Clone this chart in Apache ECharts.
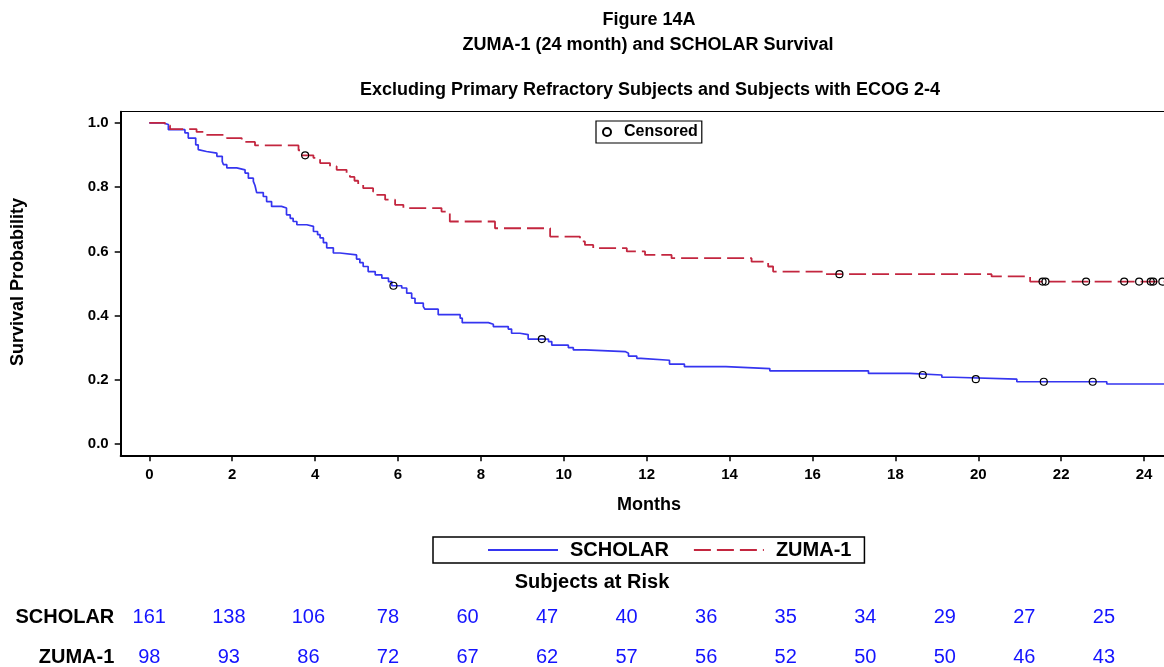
<!DOCTYPE html>
<html>
<head>
<meta charset="utf-8">
<script src="https://cdn.jsdelivr.net/npm/echarts@6.0.0/dist/echarts.min.js"></script>
<style>
  html, body { margin: 0; padding: 0; background: #fff; }
  #chart { width: 1164px; height: 667px; }
</style>
</head>
<body>
<div id="chart"></div>
<script>
// Kaplan-Meier survival: step times (months) and survival after each step
const scholarTime = [0, 0.34, 0.46, 0.86, 0.94, 1.12, 1.18, 1.22, 1.38, 1.63, 1.76, 1.79, 1.87, 2.11, 2.31,
  2.39, 2.51, 2.55, 2.59, 2.75, 2.83, 2.95, 3.19, 3.31, 3.40, 3.47, 3.56, 3.80, 3.96, 4.06,
  4.12, 4.20, 4.28, 4.44, 4.60, 5.00, 5.08, 5.16, 5.28, 5.45, 5.61, 5.77, 5.85, 6.09, 6.21,
  6.33, 6.41, 6.61, 6.65, 6.97, 7.50, 7.55, 8.18, 8.30, 8.66, 8.74, 8.94, 9.14, 9.63, 9.71,
  10.11, 10.23, 10.51, 11.48, 11.56, 11.76, 11.86, 12.55, 12.91, 13.91, 14.97, 17.35, 18.35, 19.12, 19.40,
  20.93, 23.10, 24.48];
const scholarSurv = [1, 0.995, 0.979, 0.969, 0.953, 0.932, 0.917, 0.911, 0.906, 0.896, 0.880, 0.870, 0.860, 0.854, 0.844,
  0.828, 0.818, 0.805, 0.783, 0.771, 0.755, 0.740, 0.735, 0.714, 0.703, 0.693, 0.683, 0.678, 0.662, 0.652,
  0.642, 0.627, 0.611, 0.595, 0.589, 0.576, 0.565, 0.553, 0.537, 0.527, 0.517, 0.506, 0.493, 0.486, 0.470,
  0.454, 0.439, 0.428, 0.420, 0.403, 0.392, 0.378, 0.373, 0.366, 0.358, 0.345, 0.341, 0.327, 0.319, 0.308,
  0.300, 0.293, 0.288, 0.283, 0.274, 0.267, 0.261, 0.249, 0.241, 0.235, 0.228, 0.220, 0.215, 0.208, 0.202,
  0.194, 0.187, 0.187];

const zumaTime = [0, 0.38, 0.50, 1.14, 1.34, 1.87, 2.23, 2.55, 3.60, 3.68, 3.96, 4.12, 4.36, 4.52, 4.76,
  4.84, 4.95, 5.04, 5.16, 5.40, 5.49, 5.69, 5.93, 6.13, 7.05, 7.25, 8.34, 9.67, 10.39, 10.51,
  10.71, 11.52, 11.96, 12.60, 14.53, 14.93, 15.05, 16.30, 20.32, 21.25, 24.48];
const zumaSurv = [1, 0.992, 0.981, 0.972, 0.963, 0.953, 0.941, 0.930, 0.915, 0.899, 0.891, 0.875, 0.865, 0.854, 0.844,
  0.832, 0.820, 0.807, 0.797, 0.786, 0.776, 0.761, 0.745, 0.735, 0.724, 0.693, 0.672, 0.646, 0.631, 0.620,
  0.610, 0.600, 0.589, 0.579, 0.568, 0.553, 0.537, 0.529, 0.522, 0.506, 0.506];

// Censored observations
const scholarCensorTime = [5.89, 9.47, 18.66, 19.94, 21.58, 22.76];
const scholarCensorSurv = [0.493, 0.327, 0.215, 0.202, 0.194, 0.194];
const zumaCensorTime = [3.76, 16.65, 21.55, 21.62, 22.60, 23.52, 23.88, 24.16, 24.22, 24.44];
const zumaCensorSurv = [0.899, 0.529, 0.506, 0.506, 0.506, 0.506, 0.506, 0.506, 0.506, 0.506];

// Axis ticks
const monthTicks = [0, 2, 4, 6, 8, 10, 12, 14, 16, 18, 20, 22, 24];
const survTicks = [0, 0.2, 0.4, 0.6, 0.8, 1.0];

// Subjects at risk every 2 months
const riskGroups = ['SCHOLAR', 'ZUMA-1'];
const scholarAtRisk = [161, 138, 106, 78, 60, 47, 40, 36, 35, 34, 29, 27, 25];
const zumaAtRisk = [98, 93, 86, 72, 67, 62, 57, 56, 52, 50, 50, 46, 43];

const FONT = '"Liberation Sans", Arial, sans-serif';
const BLUE = '#3535f0';
const RED = '#c3263f';
const NUM_BLUE = '#1414ff';

// Month range shown across the plot (left edge sits a little before 0)
const X_MIN = -0.69;
const X_MAX = 24.48;

const pairs = (xs, ys) => xs.map((x, i) => [x, ys[i]]);

const chart = echarts.init(document.getElementById('chart'), null, { renderer: 'canvas' });

function headText(text, x, y, size, extra) {
  return Object.assign({
    type: 'text', x: x, y: y,
    style: {
      text: text, fill: '#000',
      font: 'bold ' + size + 'px ' + FONT,
      align: 'center', verticalAlign: 'middle',
      textAlign: 'center', textVerticalAlign: 'middle'
    }
  }, extra || {});
}

const riskLabel = {
  show: true, position: 'inside', opacity: 1,
  formatter: p => String(p.value[2]),
  color: NUM_BLUE, fontFamily: FONT, fontSize: 20
};

const censorStyle = { color: 'rgba(0,0,0,0)', borderColor: '#000', borderWidth: 1.2, opacity: 1 };

const option = {
  animation: false,
  backgroundColor: '#fff',
  graphic: [
    headText('Figure 14A', 649, 20, 18),
    headText('ZUMA-1 (24 month) and SCHOLAR Survival', 648, 45, 18),
    headText('Excluding Primary Refractory Subjects and Subjects with ECOG 2-4', 650, 90, 18),
    headText('Survival Probability', 18, 282, 18, { rotation: Math.PI / 2 }),
    headText('Months', 649, 505, 18),
    headText('Subjects at Risk', 592, 582, 20)
  ],
  legend: [
    {
      data: ['Censored'],
      left: 596, top: 121,
      selectedMode: false,
      borderColor: '#000', borderWidth: 1.2,
      padding: [3, 4, 3, 6],
      itemWidth: 8, itemHeight: 8,
      textStyle: { fontFamily: FONT, fontWeight: 'bold', fontSize: 16, color: '#000', padding: [0, 0, 0, 8] }
    },
    {
      data: ['SCHOLAR', 'ZUMA-1'],
      left: 433, top: 537,
      selectedMode: false,
      borderColor: '#000', borderWidth: 1.5,
      padding: [3, 13, 3, 54],
      itemWidth: 70, itemHeight: 14, itemGap: 24,
      itemStyle: { color: 'rgba(0,0,0,0)', borderColor: 'rgba(0,0,0,0)', borderWidth: 0 },
      textStyle: { fontFamily: FONT, fontWeight: 'bold', fontSize: 20, color: '#000', padding: [0, 0, 0, 7] }
    }
  ],
  grid: [
    { left: 120.7, right: 0, top: 111.7, bottom: 211.7 },
    { left: 149.3, right: 60.1, top: 617, height: 46 }
  ],
  xAxis: [
    {
      type: 'value', gridIndex: 0, min: X_MIN, max: X_MAX,
      axisLine: { show: true, onZero: false, lineStyle: { color: '#000', width: 2 } },
      axisTick: { show: true, length: 6, customValues: monthTicks, lineStyle: { color: '#000', width: 1.5 } },
      axisLabel: { customValues: monthTicks, color: '#000', fontFamily: FONT, fontWeight: 'bold', fontSize: 15, margin: 12 },
      splitLine: { show: false }
    },
    { type: 'value', gridIndex: 1, min: 0, max: 24, show: false },
    {
      // frame line along the top of the plot
      type: 'value', gridIndex: 0, position: 'top', min: X_MIN, max: X_MAX,
      axisLine: { show: true, onZero: false, lineStyle: { color: '#000', width: 1.2 } },
      axisTick: { show: false }, axisLabel: { show: false }, splitLine: { show: false }
    }
  ],
  yAxis: [
    {
      type: 'value', gridIndex: 0, min: -0.035, max: 1.035,
      axisLine: { show: true, onZero: false, lineStyle: { color: '#000', width: 2 } },
      axisTick: { show: true, length: 6, customValues: survTicks, lineStyle: { color: '#000', width: 1.5 } },
      axisLabel: {
        customValues: survTicks, formatter: v => v.toFixed(1),
        color: '#000', fontFamily: FONT, fontWeight: 'bold', fontSize: 15, margin: 12
      },
      splitLine: { show: false }
    },
    {
      type: 'category', gridIndex: 1, data: riskGroups, inverse: true, boundaryGap: false,
      axisLine: { show: false }, axisTick: { show: false }, splitLine: { show: false },
      axisLabel: { color: '#000', fontFamily: FONT, fontWeight: 'bold', fontSize: 20, margin: 35 }
    }
  ],
  series: [
    {
      name: 'SCHOLAR', type: 'line', step: 'end',
      xAxisIndex: 0, yAxisIndex: 0,
      data: pairs(scholarTime, scholarSurv),
      symbol: 'none', silent: true,
      itemStyle: { color: BLUE },
      lineStyle: { color: BLUE, width: 1.7 }
    },
    {
      name: 'ZUMA-1', type: 'line', step: 'end',
      xAxisIndex: 0, yAxisIndex: 0,
      data: pairs(zumaTime, zumaSurv),
      symbol: 'none', silent: true,
      itemStyle: { color: RED },
      lineStyle: { color: RED, width: 1.8, type: [17, 6] }
    },
    {
      name: 'Censored', type: 'scatter',
      xAxisIndex: 0, yAxisIndex: 0, z: 5,
      data: pairs(scholarCensorTime, scholarCensorSurv),
      symbol: 'circle', symbolSize: 7, silent: true,
      itemStyle: censorStyle
    },
    {
      name: 'Censored', type: 'scatter',
      xAxisIndex: 0, yAxisIndex: 0, z: 5,
      data: pairs(zumaCensorTime, zumaCensorSurv),
      symbol: 'circle', symbolSize: 7, silent: true,
      itemStyle: censorStyle
    },
    {
      name: 'SCHOLAR at risk', type: 'scatter',
      xAxisIndex: 1, yAxisIndex: 1,
      data: monthTicks.map((m, i) => [m, riskGroups[0], scholarAtRisk[i]]),
      symbolSize: 0, silent: true,
      itemStyle: { opacity: 1 },
      label: riskLabel
    },
    {
      name: 'ZUMA-1 at risk', type: 'scatter',
      xAxisIndex: 1, yAxisIndex: 1,
      data: monthTicks.map((m, i) => [m, riskGroups[1], zumaAtRisk[i]]),
      symbolSize: 0, silent: true,
      itemStyle: { opacity: 1 },
      label: riskLabel
    }
  ]
};

chart.setOption(option);
</script>
</body>
</html>
